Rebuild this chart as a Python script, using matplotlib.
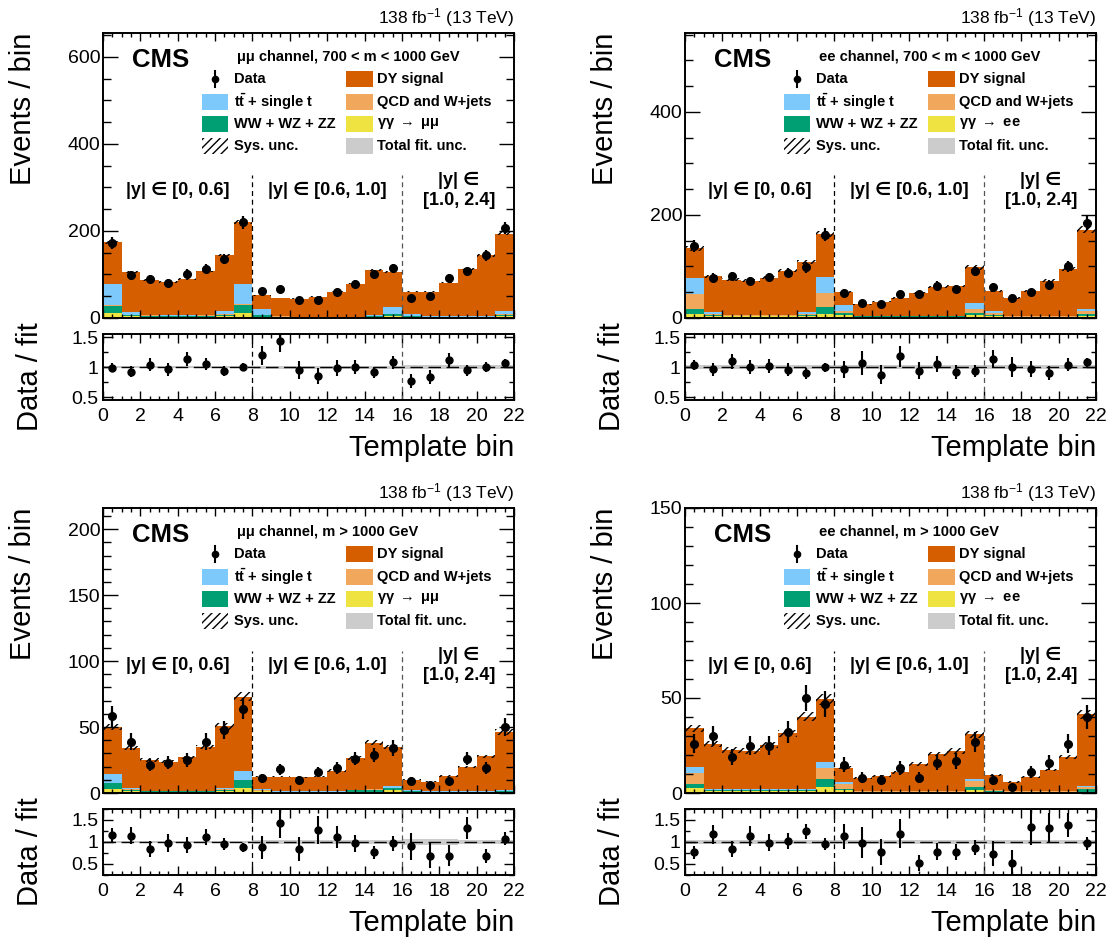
import numpy as np
import matplotlib
matplotlib.use('Agg')
import matplotlib.pyplot as plt
from matplotlib.patches import Rectangle
from matplotlib.ticker import MultipleLocator, FuncFormatter

plt.rcParams['font.family'] = ['Liberation Sans', 'DejaVu Sans']
plt.rcParams['mathtext.fontset'] = 'custom'
plt.rcParams['mathtext.rm'] = 'Liberation Sans'
plt.rcParams['mathtext.bf'] = 'Liberation Sans:bold'
plt.rcParams['mathtext.it'] = 'Liberation Sans:italic'
plt.rcParams['hatch.linewidth'] = 1.0

# ---------------- data ----------------
# mumu channel, 700 < m < 1000 GeV
mm_lo_total = [174, 106, 87, 83, 90, 107, 145, 220, 52, 46, 44, 49, 60, 79, 110, 106, 60, 60, 81, 113, 144, 194]
mm_lo_data = [172, 98, 90, 80, 102, 113, 135, 220, 62, 66, 42, 42, 59, 79, 100, 114, 46, 50, 91, 107, 144, 207]
mm_lo_yy = [11, 4, 3, 3, 3, 3, 4, 11, 3, 2, 1.5, 1.5, 1.5, 1.5, 2, 4, 2, 1.5, 1.5, 1.5, 1.5, 4]
mm_lo_vv = [16, 3, 2, 2, 2, 2, 4, 18, 3, 1, 1, 1, 1, 1, 2, 5, 2, 1.5, 1.5, 1.5, 1.5, 4]
mm_lo_qcd = [3, 1, 1, 0.5, 0.5, 1, 1, 3, 1, 0.5, 0.3, 0.3, 0.3, 0.3, 0.5, 1, 1, 0.3, 0.3, 0.3, 0.3, 1]
mm_lo_tt = [47, 5, 2, 1.5, 1.5, 2, 8, 47, 14, 1.5, 0.5, 0.5, 0.5, 0.5, 3, 15, 5, 1, 1, 1, 1, 6]
mm_lo_fitunc = [0.02, 0.02, 0.02, 0.02, 0.02, 0.02, 0.02, 0.02, 0.025, 0.025, 0.025, 0.025,
                0.025, 0.025, 0.025, 0.025, 0.03, 0.03, 0.03, 0.03, 0.03, 0.03]

# ee channel, 700 < m < 1000 GeV
ee_lo_total = [135, 81, 74, 72, 78, 92, 109, 163, 51, 27, 32, 39, 49, 60, 62, 98, 53, 39, 52, 72, 96, 171]
ee_lo_data = [139, 78, 81, 72, 79, 88, 98, 162, 49, 29, 28, 46, 46, 63, 57, 91, 60, 39, 50, 65, 100, 184]
ee_lo_yy = [8, 4, 3, 3, 3, 3, 4, 8, 6, 2, 2, 2, 2, 2, 2, 6, 3, 1.5, 1.5, 1.5, 1.5, 4]
ee_lo_vv = [10, 2, 1, 1, 1, 1, 2, 14, 3, 1, 1, 1, 1, 1, 1, 4, 2, 1, 1, 1, 1, 3]
ee_lo_qcd = [28, 2, 1, 1, 1, 1, 2, 27, 5, 1, 1, 1, 1, 1, 1, 8, 5, 1, 1, 1, 1, 6]
ee_lo_tt = [31, 3, 1, 1, 1, 1, 3, 31, 11, 0.5, 0.5, 0.5, 0.5, 0.5, 0.5, 12, 3, 0.5, 0.5, 0.5, 0.5, 4]
ee_lo_fitunc = [0.035, 0.03, 0.03, 0.03, 0.03, 0.03, 0.03, 0.035, 0.03, 0.03, 0.03, 0.03,
                0.03, 0.03, 0.03, 0.03, 0.035, 0.03, 0.03, 0.03, 0.03, 0.035]

# mumu channel, m > 1000 GeV
mm_hi_total = [50, 34, 25, 23.6, 27, 35, 50.5, 73, 12.5, 12.5, 11.8, 12.5, 17, 26.7, 38, 35, 10, 8.7, 13, 19.7, 27.7, 46.4]
mm_hi_data = [58, 39, 21, 23, 25, 39, 48, 64, 11, 18, 10, 16, 19, 26, 29, 34, 9, 6, 9, 26, 19, 50]
mm_hi_yy = [3, 1.5, 1, 1, 1, 1, 1.5, 3.6, 1.2, 0.5, 0.5, 0.5, 0.5, 0.5, 0.5, 2, 1, 0.4, 0.4, 0.4, 0.4, 0.8]
mm_hi_vv = [4.4, 1, 0.5, 0.5, 0.5, 0.5, 1, 5.9, 0.6, 0.5, 0.5, 0.5, 0.5, 1.5, 2, 1.5, 0.5, 0.5, 0.5, 0.5, 0.5, 0.8]
mm_hi_qcd = [0.5, 0.3, 0.1, 0.1, 0.1, 0.1, 0.3, 0.5, 0.2, 0.1, 0.1, 0.1, 0.1, 0.1, 0.2, 0.3, 0.1, 0.1, 0.1, 0.1, 0.1, 0.2]
mm_hi_tt = [6.7, 1.2, 0.2, 0.2, 0.2, 0.2, 1.2, 7, 0.8, 0.2, 0.2, 0.2, 0.2, 0.2, 0.3, 1.2, 0.3, 0.2, 0.2, 0.2, 0.2, 0.8]
mm_hi_fitunc = [0.02, 0.02, 0.02, 0.02, 0.02, 0.02, 0.02, 0.02, 0.045, 0.04, 0.04, 0.04,
                0.04, 0.04, 0.04, 0.04, 0.07, 0.07, 0.06, 0.05, 0.05, 0.04]

# ee channel, m > 1000 GeV
ee_hi_total = [34, 25.6, 22.6, 22.1, 25.3, 31.4, 40.2, 49.3, 13.3, 8.1, 9.1, 10.9, 15.3, 20.5, 22.1, 30.9, 9.5, 5.8, 8.2, 12.1, 18.8, 41.4]
ee_hi_data = [26, 30, 19, 25, 25, 32, 50, 47, 15, 8, 7, 13, 8, 16, 17, 27, 7, 3, 11, 16, 26, 40]
ee_hi_yy = [2.8, 1, 1, 1, 1, 1, 1, 3.3, 1.6, 0.4, 0.4, 0.4, 0.4, 0.4, 0.4, 1.4, 0.7, 0.3, 0.3, 0.3, 0.3, 0.7]
ee_hi_vv = [1.9, 0.4, 0.4, 0.4, 0.4, 0.4, 0.4, 3.9, 0.7, 0.3, 0.3, 0.3, 0.3, 0.3, 0.3, 1.9, 0.3, 0.3, 0.3, 0.3, 0.3, 1.4]
ee_hi_qcd = [6, 0.4, 0.4, 0.4, 0.4, 0.4, 0.4, 5.8, 2.6, 0.3, 0.3, 0.3, 0.3, 0.3, 0.3, 3, 0.6, 0.2, 0.2, 0.2, 0.2, 1.2]
ee_hi_tt = [2.8, 0.2, 0.2, 0.2, 0.2, 0.2, 0.2, 3.2, 0.9, 0.1, 0.1, 0.1, 0.1, 0.1, 0.1, 0.9, 0.2, 0.1, 0.1, 0.1, 0.1, 0.3]
ee_hi_fitunc = [0.045, 0.04, 0.04, 0.04, 0.04, 0.04, 0.04, 0.045, 0.05, 0.05, 0.05, 0.05,
                0.05, 0.05, 0.05, 0.05, 0.05, 0.05, 0.05, 0.05, 0.05, 0.05]

region_labels = ['|y| \u2208 [0, 0.6]', '|y| \u2208 [0.6, 1.0]', '|y| \u2208\n[1.0, 2.4]']
region_x = [4.0, 12.0, 19.05]

edges = np.arange(23)
centres = edges[:-1] + 0.5

col_dy = '#d55e00'
col_tt = '#7dc9fb'
col_qcd = '#f2a85c'
col_vv = '#009e73'
col_yy = '#efe342'
col_unc = '#cccccc'

W, H = 1111, 939
fig = plt.figure(figsize=(W / 100, H / 100), dpi=100)


def fmt_g(v, p):
    return '%g' % v


def draw(left, top, title, ll, total, data, tt, qcd, vv, yy, fitunc, sysfrac,
         ymax, ymajor, yminor, rlim):
    # pixel layout -> figure fractions
    ax = fig.add_axes([left / W, (H - top - 285) / H, 411 / W, 285 / H])
    rax = fig.add_axes([left / W, (H - top - 367) / H, 411 / W, 66 / H])

    total = np.array(total, float)
    data = np.array(data, float)
    tt, qcd, vv, yy = (np.array(a, float) for a in (tt, qcd, vv, yy))
    dy = total - tt - qcd - vv - yy

    base = np.zeros(22)
    for vals, col in [(yy, col_yy), (vv, col_vv), (qcd, col_qcd), (tt, col_tt), (dy, col_dy)]:
        ax.stairs(base + vals, edges, baseline=base, fill=True, color=col, lw=0)
        base = base + vals
    ax.stairs(total * (1 + sysfrac), edges, baseline=total * (1 - sysfrac), fill=True,
              facecolor='none', edgecolor='k', hatch='////', lw=0)
    ax.errorbar(centres, data, yerr=np.sqrt(data), fmt='o', color='k', ms=5.5,
                elinewidth=1.6, capsize=0, zorder=5)
    ax.axvline(8, ymax=0.5, color='k', lw=0.9, ls=(0, (4, 3)))
    ax.axvline(16, ymax=0.5, color='#555555', lw=0.9, ls=(0, (4, 3)))
    ax.set_xlim(0, 22)
    ax.set_ylim(0, ymax)

    # ratio panel
    fitunc = np.array(fitunc, float)
    rax.stairs(1 + fitunc, edges, baseline=1 - fitunc, fill=True, color=col_unc, lw=0)
    rax.axhline(1, color='k', lw=1.0, ls=(0, (9, 4)))
    rax.errorbar(centres, data / total, yerr=np.sqrt(data) / total, fmt='o', color='k',
                 ms=5, elinewidth=1.5, capsize=0, zorder=5)
    rax.axvline(8, color='k', lw=0.9, ls=(0, (4, 3)))
    rax.axvline(16, color='#555555', lw=0.9, ls=(0, (4, 3)))
    rax.set_xlim(0, 22)
    rax.set_ylim(*rlim)

    for a in (ax, rax):
        a.tick_params(which='both', direction='in', top=True, right=True, labelsize=14)
        a.xaxis.set_major_locator(MultipleLocator(2))
        a.xaxis.set_minor_locator(MultipleLocator(0.5))
        for s in a.spines.values():
            s.set_linewidth(1.4)
    ax.tick_params(labelbottom=False)
    ax.yaxis.set_major_locator(MultipleLocator(ymajor))
    ax.yaxis.set_minor_locator(MultipleLocator(yminor))
    ax.tick_params(axis='y', which='major', length=11, width=1, pad=2)
    ax.tick_params(axis='y', which='minor', length=5.5, width=1)
    ax.tick_params(axis='x', which='major', length=6, width=1)
    ax.tick_params(axis='x', which='minor', length=3, width=1)
    rax.yaxis.set_major_locator(MultipleLocator(0.5))
    rax.yaxis.set_minor_locator(MultipleLocator(0.25))
    rax.yaxis.set_major_formatter(FuncFormatter(fmt_g))
    rax.tick_params(axis='y', which='major', length=7, width=1, pad=3)
    rax.tick_params(axis='y', which='minor', length=3.5, width=1)
    rax.tick_params(axis='x', which='major', length=6.5, width=1, pad=6)
    rax.tick_params(axis='x', which='minor', length=3, width=1)

    ax.set_ylabel('Events / bin', fontsize=21, loc='top')
    ax.yaxis.set_label_coords(-0.160, 1.0)
    rax.set_ylabel('Data / fit', fontsize=21)
    rax.yaxis.set_label_coords(-0.143, 0.36)
    rax.set_xlabel('Template bin', fontsize=21, loc='right')
    rax.xaxis.set_label_coords(1.0, -0.52)

    # texts
    tr = ax.transAxes
    ax.text(1.0, 1.015, r'138 fb$^{-1}$ (13 TeV)', transform=tr, ha='right', va='bottom',
            fontsize=12.5)
    ax.text(0.07, 0.905, 'CMS', transform=tr, ha='left', va='center', fontsize=18.5,
            fontweight='bold')
    ax.text(0.325, 0.916, title, transform=tr, ha='left', va='center', fontsize=10.5,
            fontweight='bold')
    xt = ax.get_xaxis_transform()
    for lab, x in zip(region_labels, region_x):
        ax.text(x, 0.447, lab, transform=xt, ha='center', va='center', fontsize=13,
                fontweight='bold', linespacing=1.2)

    # legend drawn by hand, two columns
    rows = [0.839, 0.758, 0.681, 0.604]
    bh = 0.056
    c1, c2 = 0.240, 0.592
    bw = 0.064
    ax.plot([c1 + bw / 2], [rows[0]], 'o', color='k', ms=4.5, transform=tr, clip_on=False)
    ax.plot([c1 + bw / 2] * 2, [rows[0] - 0.028, rows[0] + 0.028], color='k', lw=1.5,
            transform=tr, clip_on=False)
    for r, col in zip(rows[1:3], (col_tt, col_vv)):
        ax.add_patch(Rectangle((c1, r - bh / 2), bw, bh, transform=tr, facecolor=col,
                               lw=0, clip_on=False))
    ax.add_patch(Rectangle((c1, rows[3] - bh / 2), bw, bh, transform=tr, facecolor='none',
                           edgecolor='k', hatch='////', lw=0, clip_on=False))
    for r, col in zip(rows, (col_dy, col_qcd, col_yy, col_unc)):
        ax.add_patch(Rectangle((c2, r - bh / 2), bw, bh, transform=tr, facecolor=col,
                               lw=0, clip_on=False))
    left_txt = ['Data', r'$\mathbf{t\bar{t}}$ + single t', 'WW + WZ + ZZ', 'Sys. unc.']
    right_txt = ['DY signal', 'QCD and W+jets', '\u03b3\u03b3 $\\rightarrow$ ' + ll, 'Total fit. unc.']
    for r, t1, t2 in zip(rows, left_txt, right_txt):
        ax.text(0.318, r, t1, transform=tr, ha='left', va='center', fontsize=10.5,
                fontweight='bold')
        ax.text(0.667, r, t2, transform=tr, ha='left', va='center', fontsize=10.5,
                fontweight='bold')


draw(103, 33, '\u03bc\u03bc channel, 700 < m < 1000 GeV', '\u03bc\u03bc',
     mm_lo_total, mm_lo_data, mm_lo_tt, mm_lo_qcd, mm_lo_vv, mm_lo_yy, mm_lo_fitunc,
     0.02, 655, 200, 50, (0.45, 1.55))
draw(685, 33, 'ee channel, 700 < m < 1000 GeV', 'ee',
     ee_lo_total, ee_lo_data, ee_lo_tt, ee_lo_qcd, ee_lo_vv, ee_lo_yy, ee_lo_fitunc,
     0.04, 553, 200, 50, (0.45, 1.55))
draw(103, 508, '\u03bc\u03bc channel, m > 1000 GeV', '\u03bc\u03bc',
     mm_hi_total, mm_hi_data, mm_hi_tt, mm_hi_qcd, mm_hi_vv, mm_hi_yy, mm_hi_fitunc,
     0.05, 216, 50, 10, (0.25, 1.75))
draw(685, 508, 'ee channel, m > 1000 GeV', 'ee',
     ee_hi_total, ee_hi_data, ee_hi_tt, ee_hi_qcd, ee_hi_vv, ee_hi_yy, ee_hi_fitunc,
     0.06, 150, 50, 10, (0.25, 1.75))

fig.savefig('out.png', dpi=100)
